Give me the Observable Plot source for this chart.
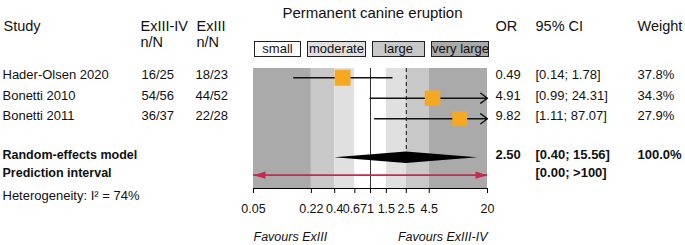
<!DOCTYPE html>
<html><head><meta charset="utf-8">
<script src="https://cdn.jsdelivr.net/npm/d3@7"></script>
<script src="https://cdn.jsdelivr.net/npm/@observablehq/plot@0.6"></script>
<style>
body{margin:0;background:#fff;}
#wrap{position:relative;width:685px;height:245px;font-family:"Liberation Sans",Arial,sans-serif;color:#111;}
#legend{position:absolute;left:254px;top:41px;display:flex;gap:6px;}
#legend span{display:block;box-sizing:border-box;height:16px;border:1px solid #222;font-size:13px;line-height:14px;text-align:center;color:#111;white-space:nowrap;overflow:visible;}
</style></head><body><div id="wrap"><div id="legend"></div></div>
<script>
// ---- data ----
const studies = ["Hader-Olsen 2020", "Bonetti 2010", "Bonetti 2011"];
const eventsExIIIIV = ["16/25", "54/56", "36/37"];
const eventsExIII = ["18/23", "44/52", "22/28"];
const oddsRatios = [0.49, 4.91, 9.82];
const ciLower = [0.14, 0.99, 1.11];
const ciUpper = [1.78, 24.31, 87.07];
const weights = [37.8, 34.3, 27.9];
const pooledOR = 2.50;
const pooledCI = [0.40, 15.56];
const pooledWeight = 100.0;
const predictionInterval = [0.00, 100];
const heterogeneityI2 = 74;
const tickValues = [0.05, 0.22, 0.4, 0.67, 1, 1.5, 2.5, 4.5, 20];
const sizeBreaks = [0.05, 0.22, 0.4, 0.67, 1.5, 2.5, 4.5, 20];
const bandClass = ["very large", "large", "moderate", "small", "moderate", "large", "very large"];
const sizeClasses = ["small", "moderate", "large", "very large"];

// ---- layout / style ----
const classColors = ["#ffffff", "#e0e0e0", "#c8c8c8", "#aaaaaa"];
const W = 685, H = 245, MT = 68, MB = 57;
const xDomain = [0.05, 20];
const yDomain = [0.55, 6.4];
const rowPx = (H - MT - MB) / (yDomain[1] - yDomain[0]);
const reRow = 4.9, piRow = 5.75, hetRow = 6.74, diamondHalf = 0.28;
const tickLen = 5 / rowPx;
const ink = "#111";
const fam = '"Liberation Sans",Arial,sans-serif';

const rows = studies.map((s, i) => ({
  study: s, a: eventsExIIIIV[i], b: eventsExIII[i], or: oddsRatios[i],
  lo: ciLower[i], hi: ciUpper[i], w: weights[i], row: i + 1,
  orT: oddsRatios[i].toFixed(2),
  ciT: `[${ciLower[i].toFixed(2)}; ${ciUpper[i].toFixed(2)}]`,
  wT: `${weights[i].toFixed(1)}%`
}));
const clampX = v => Math.max(xDomain[0], Math.min(xDomain[1], v));
const isInside = d => d.lo >= xDomain[0] && d.hi <= xDomain[1];
const inside = rows.filter(isInside);
const clipped = rows.filter(d => !isInside(d)).map(d => ({...d, x1: clampX(d.lo), x2: clampX(d.hi)}));
const bands = d3.pairs(sizeBreaks).map(([a, b], i) => ({x1: a, x2: b, cls: bandClass[i]}));
const diamond = [
  {x: pooledCI[0], y1: reRow, y2: reRow},
  {x: pooledOR, y1: reRow - diamondHalf, y2: reRow + diamondHalf},
  {x: pooledCI[1], y1: reRow, y2: reRow}
];
const piEnds = [
  {x: clampX(Math.max(predictionInterval[0], 1e-9)), rot: 180},
  {x: clampX(predictionInterval[1] * 1.5), rot: 0}
];
const arrowHead = {draw(ctx) { ctx.moveTo(0, 0); ctx.lineTo(-12, -3.6); ctx.lineTo(-12, 3.6); ctx.closePath(); }};

const T = (data, o) => Plot.text(data, {lineAnchor: "middle", fill: ink, fontSize: 13, ...o});
const summary = [{row: reRow}];
const HS = 14.5; // header font size

const chart = Plot.plot({
  width: W, height: H,
  marginLeft: 253, marginRight: 198, marginTop: MT, marginBottom: MB,
  style: {fontFamily: fam, fontSize: "13px", background: "transparent", overflow: "visible", color: ink},
  x: {type: "log", domain: xDomain, axis: null},
  y: {domain: yDomain, reverse: true, axis: null},
  color: {domain: sizeClasses, range: classColors},
  r: {type: "pow", exponent: 0.25, domain: [0, d3.max(weights)], range: [0, 9.0]},
  marks: [
    Plot.rect(bands, {x1: "x1", x2: "x2", fill: "cls"}),
    Plot.ruleX([1], {stroke: "#333", strokeWidth: 1}),
    Plot.ruleX([pooledOR], {y1: yDomain[0], y2: reRow - diamondHalf, stroke: "#111", strokeDasharray: "4,3"}),
    Plot.ruleY(inside, {y: "row", x1: "lo", x2: "hi", stroke: "#111", strokeWidth: 1.4}),
    Plot.arrow(clipped, {x1: "x1", x2: "x2", y1: "row", y2: "row", stroke: "#111", strokeWidth: 1.4, headAngle: 72, headLength: 9}),
    Plot.dot(rows, {x: "or", y: "row", r: "w", symbol: "square", fill: "#f7a823", stroke: null}),
    Plot.areaY(diamond, {x: "x", y1: "y1", y2: "y2", fill: "#000", curve: "linear"}),
    Plot.ruleY([piRow], {x1: piEnds[0].x, x2: piEnds[1].x, stroke: "#c62a4c", strokeWidth: 1.6}),
    Plot.dot(piEnds, {x: "x", y: piRow, symbol: arrowHead, rotate: "rot", fill: "#c62a4c", stroke: null, r: 5}),
    // x axis: baseline, ticks, labels
    Plot.ruleY([yDomain[1]], {stroke: "#000", strokeWidth: 1}),
    Plot.ruleX(tickValues, {y1: yDomain[1], y2: yDomain[1] + tickLen, stroke: "#000", strokeWidth: 1}),
    T(tickValues, {x: d => d, text: d => String(d), frameAnchor: "bottom", dy: 20, fontSize: 12.5}),
    // title and headers
    T(["Permanent canine eruption"], {frameAnchor: "top", dx: 2, dy: -55, fontSize: 15}),
    T(["Study"], {frameAnchor: "top-left", textAnchor: "start", dx: -250, dy: -42, fontSize: HS}),
    T(["ExIII-IV"], {frameAnchor: "top-left", textAnchor: "start", dx: -113, dy: -42, fontSize: HS}),
    T(["n/N"], {frameAnchor: "top-left", textAnchor: "start", dx: -113, dy: -26, fontSize: HS}),
    T(["ExIII"], {frameAnchor: "top-left", textAnchor: "start", dx: -57, dy: -42, fontSize: HS}),
    T(["n/N"], {frameAnchor: "top-left", textAnchor: "start", dx: -57, dy: -26, fontSize: HS}),
    T(["OR"], {frameAnchor: "top-right", textAnchor: "start", dx: 8, dy: -42, fontSize: HS}),
    T(["95% CI"], {frameAnchor: "top-right", textAnchor: "start", dx: 48, dy: -42, fontSize: HS}),
    T(["Weight"], {frameAnchor: "top-right", textAnchor: "start", dx: 150, dy: -42, fontSize: HS}),
    // study rows
    T(rows, {y: "row", text: "study", frameAnchor: "left", textAnchor: "start", dx: -251, dy: -2.5}),
    T(rows, {y: "row", text: "a", frameAnchor: "left", textAnchor: "start", dx: -112, dy: -2.5}),
    T(rows, {y: "row", text: "b", frameAnchor: "left", textAnchor: "start", dx: -58, dy: -2.5}),
    T(rows, {y: "row", text: "orT", frameAnchor: "right", textAnchor: "start", dx: 8, dy: -2.5}),
    T(rows, {y: "row", text: "ciT", frameAnchor: "right", textAnchor: "start", dx: 48, dy: -2.5}),
    T(rows, {y: "row", text: "wT", frameAnchor: "right", textAnchor: "start", dx: 150, dy: -2.5}),
    // summary rows
    T(summary, {y: "row", text: () => "Random-effects model", frameAnchor: "left", textAnchor: "start", dx: -251, dy: -3, fontWeight: "bold", fontSize: 12.5}),
    T(summary, {y: "row", text: () => pooledOR.toFixed(2), frameAnchor: "right", textAnchor: "start", dx: 8, dy: -3, fontWeight: "bold"}),
    T(summary, {y: "row", text: () => `[${pooledCI[0].toFixed(2)}; ${pooledCI[1].toFixed(2)}]`, frameAnchor: "right", textAnchor: "start", dx: 48, dy: -3, fontWeight: "bold"}),
    T(summary, {y: "row", text: () => `${pooledWeight.toFixed(1)}%`, frameAnchor: "right", textAnchor: "start", dx: 150, dy: -3, fontWeight: "bold"}),
    T([{row: piRow}], {y: "row", text: () => "Prediction interval", frameAnchor: "left", textAnchor: "start", dx: -251, dy: -2, fontWeight: "bold", fontSize: 12.5}),
    T([{row: piRow}], {y: "row", text: () => `[${predictionInterval[0].toFixed(2)}; >${predictionInterval[1]}]`, frameAnchor: "right", textAnchor: "start", dx: 48, dy: -2, fontWeight: "bold"}),
    T([{row: hetRow}], {y: "row", text: () => `Heterogeneity: I\u00b2 = ${heterogeneityI2}%`, frameAnchor: "left", textAnchor: "start", dx: -251, dy: 0}),
    // favours labels
    T(["Favours ExIII"], {frameAnchor: "bottom-left", textAnchor: "start", dy: 48, fontSize: 12.5, fontStyle: "italic"}),
    T(["Favours ExIII-IV"], {frameAnchor: "bottom-right", textAnchor: "end", dy: 48, fontSize: 12.5, fontStyle: "italic"})
  ]
});
document.getElementById("wrap").prepend(chart);

// legend
const legendWidths = [47, 59, 53, 58];
const leg = document.getElementById("legend");
sizeClasses.forEach((c, i) => {
  const s = document.createElement("span");
  s.textContent = c;
  s.style.width = legendWidths[i] + "px";
  s.style.background = classColors[i];
  leg.appendChild(s);
});
</script>
</body></html>
